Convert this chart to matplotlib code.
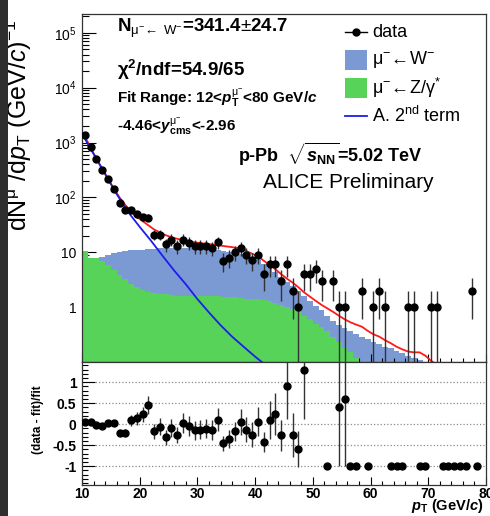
import matplotlib
matplotlib.use('Agg')

import numpy as np
import matplotlib.pyplot as plt
from matplotlib.lines import Line2D
from matplotlib.patches import Rectangle
from matplotlib.ticker import LogLocator, FuncFormatter, MultipleLocator, NullFormatter

plt.rcParams['font.family'] = ['Liberation Sans', 'DejaVu Sans']
plt.rcParams['mathtext.fontset'] = 'custom'
plt.rcParams['mathtext.rm'] = 'Liberation Sans'
plt.rcParams['mathtext.it'] = 'Liberation Sans:italic'
plt.rcParams['mathtext.bf'] = 'Liberation Sans:bold'
plt.rcParams['mathtext.bfit'] = 'Liberation Sans:italic:bold'

# 1 GeV/c bins from 10 to 80
pt_centers = np.arange(10.5, 80.0, 1.0)

counts = [1350, 820, 500, 310, 218, 145, 79, 59, 60, 50,
          44, 43, 21, 21, 14, 17, 13, 17, 15, 13,
          13, 13, 12, 15.4, 7, 8, 10, 12, 9, 7.2,
          9, 4, 6, 6, 3, 6, 2, 1, 4, 4,
          5, 3, 0, 3, 1, 1, 0, 0, 2, 0,
          1, 2, 1, 0, 0, 0, 1, 1, 0, 0,
          1, 1, 0, 0, 0, 0, 0, 2, 0, 0]
count_err = [37, 29, 22, 18, 15, 12, 9, 7.7, 7.7, 7.1,
             6.6, 6.6, 4.6, 4.6, 3.7, 4.1, 3.6, 4.1, 3.9, 3.6,
             3.6, 3.6, 3.5, 3.9, 2.6, 2.8, 3.2, 3.5, 3.0, 2.7,
             3.0, 2.0, 2.4, 2.4, 1.7, 2.4, 1.4, 1.0, 2.0, 2.0,
             2.2, 1.7, 0, 1.7, 1.0, 1.0, 0, 0, 1.4, 0,
             1.0, 1.4, 1.0, 0, 0, 0, 1.0, 1.0, 0, 0,
             1.0, 1.0, 0, 0, 0, 0, 0, 1.4, 0, 0]

nan = np.nan
resid = [0.05, 0.05, -0.02, -0.05, 0.02, 0.02, -0.21, -0.2, 0.09, 0.14,
         0.23, 0.45, -0.17, -0.06, -0.31, -0.09, -0.26, 0.03, -0.05, -0.15,
         -0.13, -0.11, -0.13, 0.11, -0.46, -0.36, -0.17, 0.05, -0.13, -0.25,
         0.06, -0.43, 0.09, 0.23, -0.27, 0.9, -0.26, -0.59, 1.28, nan,
         nan, nan, -1, nan, 0.41, 0.61, -1, -1, nan, -1,
         nan, nan, nan, -1, -1, -1, nan, nan, -1, -1,
         nan, nan, -1, -1, -1, -1, -1, nan, -1, nan]
resid_err = [0.03, 0.03, 0.04, 0.05, 0.06, 0.07, 0.07, 0.08, 0.13, 0.15,
             0.17, 0.21, 0.18, 0.2, 0.18, 0.21, 0.2, 0.24, 0.24, 0.22,
             0.22, 0.23, 0.24, 0.28, 0.18, 0.21, 0.22, 0.3, 0.29, 0.29,
             0.35, 0.24, 0.45, 0.5, 0.36, 0.78, 0.53, 0.43, 1.15, 0,
             0, 0, 0, 0, 1.41, 1.61, 0, 0, 0, 0] + [0] * 20

# W -> mu template, 1 GeV/c bins starting at 10
w_vals = [6.5, 7.0, 7.6, 8.2, 8.8, 9.5, 10.0, 10.5, 10.8, 11.0,
          11.2, 11.4, 11.6, 11.8, 11.9, 12.0, 12.0, 12.0, 11.9, 11.7,
          11.5, 11.3, 11.1, 10.9, 10.6, 10.3, 9.9, 9.4, 8.7, 8.0,
          7.2, 6.2, 5.2, 4.3, 3.5, 2.9, 2.4, 2.0, 1.6, 1.3,
          1.05, 0.87, 0.7, 0.57, 0.47, 0.41, 0.36, 0.32, 0.29, 0.26,
          0.23, 0.21, 0.19, 0.18, 0.16, 0.145, 0.13, 0.12, 0.11]

# Z/gamma* -> mu template, 1 GeV/c bins starting at 10
z_vals = [10.5, 8.0, 8.0, 7.0, 5.8, 4.7, 3.9, 3.2, 2.6, 2.3,
          2.05, 1.9, 1.8, 1.75, 1.7, 1.65, 1.62, 1.6, 1.6, 1.6,
          1.6, 1.6, 1.6, 1.58, 1.56, 1.53, 1.5, 1.46, 1.43, 1.4,
          1.38, 1.33, 1.28, 1.2, 1.1, 1.02, 0.92, 0.8, 0.7, 0.6,
          0.5, 0.43, 0.36, 0.29, 0.23, 0.18, 0.15, 0.12]

# total fit
fit_pt = np.arange(10.5, 72.0, 1.0)
fit_vals = [1290, 800, 510, 330, 215, 145, 100, 73, 55, 44,
            37, 31, 26, 23, 20.5, 18.8, 17.6, 16.6, 15.8, 15.2,
            14.7, 14.3, 13.9, 13.5, 13.0, 12.6, 12.2, 11.8, 10.5, 9.4,
            8.4, 7.0, 5.9, 4.9, 4.0, 3.3, 2.8, 2.3, 1.85, 1.55,
            1.3, 1.1, 0.95, 0.82, 0.7, 0.6, 0.53, 0.48, 0.44, 0.37,
            0.32, 0.29, 0.25, 0.22, 0.19, 0.17, 0.155, 0.15, 0.15, 0.13,
            0.105, 0.09]

# second term of function A
a_pt = [10, 12, 14, 16, 18, 20, 22, 24, 26, 28, 30, 32, 34, 36, 38, 40, 42]
a_vals = [1450, 620, 270, 115, 54, 29, 16, 8.5, 4.6, 2.6, 1.4, 0.8, 0.47,
          0.29, 0.19, 0.125, 0.085]

legend_labels = ['data', r'$\mathrm{μ^{-}\!\leftarrow\!W^{-}}$',
                 r'$\mathrm{μ^{-}\!\leftarrow\!Z/γ^{*}}$', r'A. 2$^{\mathrm{nd}}$ term']

w_col = '#7b9ad4'
z_col = '#58d35a'
fit_col = '#ff1a1a'
a_col = '#1c1cf0'

fig = plt.figure(figsize=(4.9, 5.16), dpi=100)
fig.add_artist(Rectangle((0, 0), 8 / 490, 1, transform=fig.transFigure,
                         facecolor='#2e2e2e', edgecolor='none'))
ax = fig.add_axes([82 / 490, 1 - 362 / 516, 404 / 490, 348 / 516])
ax2 = fig.add_axes([82 / 490, 1 - 485 / 516, 404 / 490, 123 / 516], sharex=ax)

# ---- top panel
ax.set_yscale('log')
w_edges = np.arange(10, 10 + len(w_vals) + 1)
z_edges = np.arange(10, 10 + len(z_vals) + 1)
ax.stairs(w_vals, w_edges, fill=True, color=w_col, baseline=1e-3, zorder=1)
ax.stairs(z_vals, z_edges, fill=True, color=z_col, baseline=1e-3, zorder=2)
ax.plot(fit_pt, fit_vals, color=fit_col, lw=1.3, zorder=3)
ax.plot(a_pt, a_vals, color=a_col, lw=1.3, zorder=4)

c = np.array(counts, dtype=float)
ce = np.array(count_err, dtype=float)
m = c > 0
ax.errorbar(pt_centers[m], c[m], yerr=[np.minimum(ce[m], c[m] * 0.9999), ce[m]],
            fmt='o', color='black', ms=5, ecolor='#333333', elinewidth=1.0,
            capsize=0, zorder=5)

ax.set_xlim(10, 80)
ax.set_ylim(0.1, 2.2e5)


def log_fmt(v, pos):
    if v < 0.5:
        return ''
    if v < 2:
        return '1'
    if v < 20:
        return '10'
    return r'$10^{%d}$' % round(np.log10(v))


ax.yaxis.set_major_locator(LogLocator(base=10, numticks=10))
ax.yaxis.set_minor_locator(LogLocator(base=10, subs=np.arange(2, 10), numticks=20))
ax.yaxis.set_major_formatter(FuncFormatter(log_fmt))
ax.yaxis.set_minor_formatter(NullFormatter())
ax.xaxis.set_major_locator(MultipleLocator(10))
ax.xaxis.set_minor_locator(MultipleLocator(2))
ax.tick_params(which='both', direction='in', top=False, right=False)
ax.tick_params(axis='y', which='major', length=10, width=0.8, labelsize=10, pad=4)
ax.tick_params(axis='y', which='minor', length=5, width=0.8)
ax.tick_params(axis='x', which='major', length=6, width=0.8, labelbottom=False)
ax.tick_params(axis='x', which='minor', length=3, width=0.8)

# ROOT-style title: sits toward the top end of the axis
ax.set_ylabel(r'dN$^{\mathrm{μ^{-}}}$/d$p_{\mathrm{T}}$ (GeV/$c$)$^{-1}$', fontsize=18)
ax.yaxis.set_label_coords(-0.12, 0.68)

ax.text(0.087, 0.96, r'N$_{\mathrm{μ^{-}\!\leftarrow\ W^{-}}}$=341.4$\mathrm{\pm}$24.7',
        transform=ax.transAxes, fontsize=13.5, fontweight='bold', va='center')
ax.text(0.087, 0.839, r'χ$^{\mathbf{2}}$/ndf=54.9/65',
        transform=ax.transAxes, fontsize=13.5, fontweight='bold', va='center')
ax.text(0.087, 0.759,
        r'Fit Range: 12<$\mathbfit{p}_{\mathbf{T}}^{\mathrm{μ^{-}}}$<80 GeV/$\mathbfit{c}$',
        transform=ax.transAxes, fontsize=11, fontweight='bold', va='center')
ax.text(0.087, 0.675, r'-4.46<$\mathbfit{y}^{\mathrm{μ^{-}}}_{\mathbf{cms}}$<-2.96',
        transform=ax.transAxes, fontsize=11, fontweight='bold', va='center')
ax.text(0.385, 0.595, r'p-Pb  $\sqrt{\mathbfit{s}_{\mathbf{NN}}}$=5.02 TeV',
        transform=ax.transAxes, fontsize=13, fontweight='bold', va='center')
ax.text(0.448, 0.517, 'ALICE Preliminary',
        transform=ax.transAxes, fontsize=15, va='center')

# legend drawn by hand so the rows keep an even pitch
leg_x0, leg_x1, leg_tx = 0.651, 0.705, 0.718
leg_rows = [0.948, 0.868, 0.787, 0.707]
box_h = 0.056
ax.add_line(Line2D([leg_x0, leg_x1], [leg_rows[0]] * 2, color='black', lw=1,
                   transform=ax.transAxes, zorder=6))
ax.add_line(Line2D([(leg_x0 + leg_x1) / 2], [leg_rows[0]], color='black', marker='o',
                   ms=5, transform=ax.transAxes, zorder=6))
ax.add_patch(Rectangle((leg_x0, leg_rows[1] - box_h / 2), leg_x1 - leg_x0, box_h,
                       facecolor=w_col, edgecolor='none', transform=ax.transAxes, zorder=6))
ax.add_patch(Rectangle((leg_x0, leg_rows[2] - box_h / 2), leg_x1 - leg_x0, box_h,
                       facecolor=z_col, edgecolor='none', transform=ax.transAxes, zorder=6))
ax.add_line(Line2D([leg_x0, leg_x1], [leg_rows[3]] * 2, color=a_col, lw=1.3,
                   transform=ax.transAxes, zorder=6))
for yrow, lab in zip(leg_rows, legend_labels):
    ax.text(leg_tx, yrow, lab, transform=ax.transAxes, fontsize=13, va='center')

# ---- residual panel
r = np.array(resid, dtype=float)
re = np.array(resid_err, dtype=float)
mr = ~np.isnan(r)
ax2.errorbar(pt_centers[mr], r[mr], yerr=re[mr], fmt='o', color='black', ms=5,
             ecolor='#333333', elinewidth=1.0, capsize=0, zorder=5)
ax2.set_ylim(-1.45, 1.48)
ax2.yaxis.set_major_locator(MultipleLocator(0.5))
ax2.yaxis.set_minor_locator(MultipleLocator(0.1))
ax2.yaxis.set_major_formatter(FuncFormatter(lambda v, p: '%g' % v if abs(v) > 1e-9 else '0'))
ax2.yaxis.grid(True, which='major', linestyle=':', color='#8a8a8a', linewidth=0.9)
ax2.tick_params(which='both', direction='in', top=False, right=False)
ax2.tick_params(axis='y', which='major', length=9, width=0.8, labelsize=10, pad=4)
ax2.tick_params(axis='y', which='minor', length=4.5, width=0.8)
ax2.tick_params(axis='x', which='major', length=5.5, width=0.8, labelsize=10, pad=1.5)
ax2.tick_params(axis='x', which='minor', length=3, width=0.8)
for lab in ax2.get_xticklabels() + ax2.get_yticklabels():
    lab.set_fontweight('bold')

ax2.set_ylabel('(data - fit)/fit', fontsize=8.5, fontweight='bold')
ax2.yaxis.set_label_coords(-0.095, 0.53)
ax2.set_xlabel(r'$\mathbfit{p}_{\mathbf{T}}$ (GeV/$\mathbfit{c}$)', fontsize=10.5,
               fontweight='bold', ha='right', va='bottom')
ax2.xaxis.set_label_coords(0.995, -0.242)

for a in (ax, ax2):
    for s in a.spines.values():
        s.set_color('#333333')
        s.set_linewidth(0.9)

fig.savefig('out.png', dpi=100)
